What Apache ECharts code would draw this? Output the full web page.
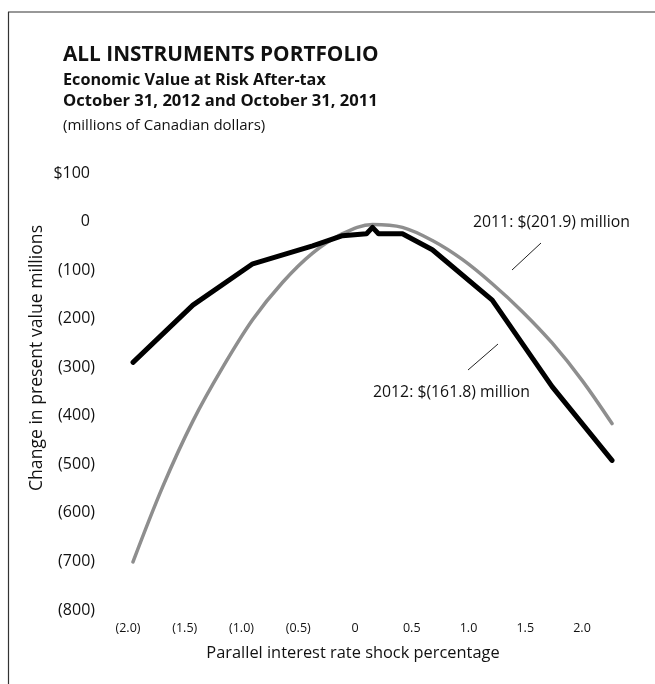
<!DOCTYPE html>
<html>
<head>
<meta charset="utf-8">
<title>All Instruments Portfolio – EVaR</title>
<script src="https://cdn.jsdelivr.net/npm/echarts@6/dist/echarts.min.js"></script>
<style>
  html, body { margin: 0; padding: 0; background: #ffffff; }
  #chart { width: 655px; height: 684px; }
</style>
</head>
<body>
<div id="chart"></div>
<script>
// Parallel rate shocks (percentage points) and change in present value ($ millions)
const shocks2011 = [-2, -1.75, -1.5, -1.25, -1, -0.75, -0.5, -0.25, 0, 0.25, 0.5, 0.75, 1, 1.25, 1.5, 1.75, 2];
const values2011 = [-701, -545, -411, -300, -201.9, -125, -65, -25, -6, -12, -39, -78, -128, -185, -250, -327, -416];

const shocks2012 = [-2, -1.5, -1, -0.5, -0.25, -0.05, 0, 0.05, 0.25, 0.5, 1, 1.5, 2];
const values2012 = [-290, -172, -87, -50, -29, -25, -12, -25, -25, -58, -161.8, -340, -492];

const shockTicks = [-2, -1.5, -1, -0.5, 0, 0.5, 1, 1.5, 2];
const valueTicks = [100, 0, -100, -200, -300, -400, -500, -600, -700, -800];

const titleLines = [
  'ALL INSTRUMENTS PORTFOLIO',
  'Economic Value at Risk After-tax',
  'October 31, 2012 and October 31, 2011',
  '(millions of Canadian dollars)'
];
const label2011 = '2011: $(201.9) million';
const label2012 = '2012: $(161.8) million';
const xTitle = 'Parallel interest rate shock percentage';
const yTitle = 'Change in present value millions';

const FONT = '"Open Sans", "Noto Sans", sans-serif';
const INK = '#111111';

function pairs(xs, ys) { return xs.map((x, i) => [x, ys[i]]); }

function fmtValue(v) {
  if (v > 0) return '$' + v + '{p|}';
  if (v === 0) return '0{p|}';
  return '(' + (-v) + ')';
}
function fmtShock(v) {
  if (v < 0) return '(' + (-v).toFixed(1) + ')';
  if (v === 0) return '0';
  return v.toFixed(1);
}

const chart = echarts.init(document.getElementById('chart'), null, { renderer: 'canvas' });

chart.setOption({
  backgroundColor: '#ffffff',
  animation: false,
  textStyle: { fontFamily: FONT, color: INK },
  grid: [
    { left: 133, right: 43, top: 173, bottom: 74 },
    { left: 128, right: 73, top: 173, bottom: 74 }
  ],
  xAxis: [
    {
      type: 'value', gridIndex: 0, min: -2, max: 2, interval: 0.5,
      axisLine: { show: false }, axisTick: { show: false },
      axisLabel: { show: false }, splitLine: { show: false }
    },
    {
      type: 'value', gridIndex: 1, min: -2, max: 2, interval: 0.5,
      axisLine: { show: false }, axisTick: { show: false }, splitLine: { show: false },
      axisLabel: {
        margin: 12, fontSize: 12.5, color: INK, fontFamily: FONT,
        formatter: fmtShock,
        customValues: shockTicks
      }
    }
  ],
  yAxis: [
    {
      type: 'value', gridIndex: 0, min: -800, max: 100, interval: 100,
      axisLine: { show: false }, axisTick: { show: false }, splitLine: { show: false },
      axisLabel: {
        margin: 38, fontSize: 16, color: INK, fontFamily: FONT,
        customValues: valueTicks,
        formatter: fmtValue,
        rich: { p: { width: 5 } }
      }
    },
    { type: 'value', gridIndex: 1, min: -800, max: 100, show: false }
  ],
  series: [
    {
      name: '2011', type: 'line', xAxisIndex: 0, yAxisIndex: 0,
      data: pairs(shocks2011, values2011),
      smooth: 0.35, symbol: 'none', z: 2,
      lineStyle: { color: '#8e8e8e', width: 3.5, cap: 'round' }
    },
    {
      name: '2012', type: 'line', xAxisIndex: 0, yAxisIndex: 0,
      data: pairs(shocks2012, values2012),
      smooth: false, symbol: 'none', z: 3,
      lineStyle: { color: '#000000', width: 5, cap: 'round', join: 'round' }
    }
  ],
  graphic: [
    // outer frame
    { type: 'line', shape: { x1: 8, y1: 12, x2: 655, y2: 12 }, style: { stroke: '#333', lineWidth: 1.2 } },
    { type: 'line', shape: { x1: 8.5, y1: 12, x2: 8.5, y2: 684 }, style: { stroke: '#333', lineWidth: 1.2 } },
    // titles
    { type: 'text', x: 63, y: 55, style: { text: titleLines[0], font: 'bold 20.8px ' + FONT, fill: INK, verticalAlign: 'middle' } },
    { type: 'text', x: 63, y: 80, style: { text: titleLines[1], font: 'bold 16.2px ' + FONT, fill: INK, verticalAlign: 'middle' } },
    { type: 'text', x: 63, y: 101, style: { text: titleLines[2], font: 'bold 16.6px ' + FONT, fill: INK, verticalAlign: 'middle' } },
    { type: 'text', x: 63, y: 126, style: { text: titleLines[3], font: '15px ' + FONT, fill: INK, verticalAlign: 'middle' } },
    // axis titles
    { type: 'text', x: 353, y: 653, style: { text: xTitle, font: '16.4px ' + FONT, fill: INK, align: 'center', verticalAlign: 'middle' } },
    { type: 'text', x: 37, y: 358, rotation: Math.PI / 2, style: { text: yTitle, font: '17.6px ' + FONT, fill: INK, align: 'center', verticalAlign: 'middle' } },
    // series annotations with leader lines
    { type: 'text', x: 473, y: 222, style: { text: label2011, font: '15.8px ' + FONT, fill: INK, align: 'left', verticalAlign: 'middle' } },
    { type: 'line', shape: { x1: 541, y1: 243, x2: 512, y2: 270 }, style: { stroke: '#222', lineWidth: 1 } },
    { type: 'text', x: 373, y: 392, style: { text: label2012, font: '15.8px ' + FONT, fill: INK, align: 'left', verticalAlign: 'middle' } },
    { type: 'line', shape: { x1: 498, y1: 344, x2: 468, y2: 370 }, style: { stroke: '#222', lineWidth: 1 } }
  ]
});
</script>
</body>
</html>
